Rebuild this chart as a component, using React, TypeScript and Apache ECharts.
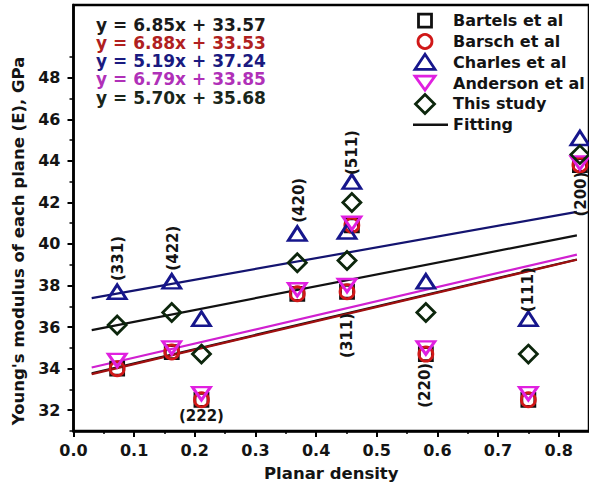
import React, { useEffect, useRef } from 'react';
import * as echarts from 'echarts';

// ---- data ----
const planes = ['(331)', '(422)', '(222)', '(420)', '(311)', '(511)', '(220)', '(111)', '(200)'];
const planarDensity = [0.072, 0.162, 0.211, 0.369, 0.451, 0.459, 0.581, 0.75, 0.835];
const bartels = [34.0, 34.8, 32.5, 37.6, 37.7, 40.9, 34.7, 32.5, 43.8];
const barsch = [34.0, 34.8, 32.5, 37.6, 37.7, 40.9, 34.7, 32.5, 43.8];
const charles = [37.7, 38.2, 36.4, 40.5, 40.6, 43.0, 38.2, 36.4, 45.1];
const anderson = [34.4, 35.0, 32.8, 37.8, 38.0, 41.0, 35.0, 32.8, 43.9];
const thisStudy = [36.1, 36.7, 34.7, 39.1, 39.2, 42.0, 36.7, 34.7, 44.3];

const fitSlopes = [6.85, 6.88, 5.19, 6.79, 5.70];
const fitIntercepts = [33.57, 33.53, 37.24, 33.85, 35.68];
const fitRange = [0.03, 0.83];

const labelX = [0.074, 0.164, 0.211, 0.372, 0.451, 0.46, 0.58, 0.75, 0.836];
const labelY = [39.3, 39.8, 31.7, 42.1, 35.6, 44.4, 33.2, 37.8, 42.4];
const labelRotate = [90, 90, 0, 90, 90, 90, 90, 90, 90];

const xMajorTicks = [0, 0.1, 0.2, 0.3, 0.4, 0.5, 0.6, 0.7, 0.8];
const xMinorTicks = [0.05, 0.15, 0.25, 0.35, 0.45, 0.55, 0.65, 0.75];
const yMajorTicks = [32, 34, 36, 38, 40, 42, 44, 46, 48];
const yMinorTicks = [31, 33, 35, 37, 39, 41, 43, 45, 47, 49];

const seriesNames = ['Bartels et al', 'Barsch et al', 'Charles et al', 'Anderson et al', 'This study'];
const fitName = 'Fitting';
const colors = ['#111111', '#d01818', '#16168c', '#e020e0', '#0c260c'];
const lineColors = ['#111111', '#a01010', '#141470', '#d020d0', '#111111'];
const eqColors = ['#1a1a1a', '#b02020', '#1a1a80', '#b030b8', '#1a261a'];

const FONT = 'DejaVu Sans';

export default function App() {
  const ref = useRef<HTMLDivElement>(null);
  useEffect(() => {
    document.body.style.margin = '0';
    if (!ref.current) return;
    const chart = echarts.init(ref.current, null, { renderer: 'svg' });

    const gridLeft = 73.5, gridTop = 5, gridW = 517, gridH = 426.7;

    const pts = (ys: number[]) => planarDensity.map((x, i) => [x, ys[i]]);
    const valueSets = [bartels, barsch, charles, anderson, thisStudy];
    const symbols = ['rect', 'circle', 'triangle', 'triangle', 'diamond'];
    const sizes: any[] = [13, 14, [18, 14], [18, 13], [18, 18]];
    const rotates = [0, 0, 0, 180, 0];

    const fitSeries = fitSlopes.map((s, i) => ({
      type: 'line',
      name: i === 4 ? fitName : 'fit-' + seriesNames[i],
      data: fitRange.map((x) => [x, s * x + fitIntercepts[i]]),
      symbol: 'none',
      lineStyle: { color: lineColors[i], width: 2.2 },
      itemStyle: { color: lineColors[i] },
      z: 2,
    }));

    const scatterSeries = valueSets.map((vals, i) => ({
      type: 'scatter',
      name: seriesNames[i],
      data: pts(vals),
      symbol: symbols[i],
      symbolSize: sizes[i],
      symbolRotate: rotates[i],
      itemStyle: { color: 'rgba(0,0,0,0)', borderColor: colors[i], borderWidth: 2.8, opacity: 1 },
      z: 3,
    }));

    const labelSeries = {
      type: 'scatter',
      name: 'planes',
      symbolSize: 1,
      silent: true,
      z: 4,
      data: planes.map((p, i) => ({
        value: [labelX[i], labelY[i]],
        name: p,
        label: { rotate: labelRotate[i] },
      })),
      label: {
        show: true,
        position: 'inside',
        formatter: (p: any) => p.name,
        fontFamily: FONT,
        fontWeight: 'bold',
        fontSize: 15,
        color: '#141414',
      },
      itemStyle: { color: 'rgba(0,0,0,0)', opacity: 1 },
    };

    const eqGraphics = fitSlopes.map((s, i) => ({
      type: 'text',
      left: 96,
      top: 16 + i * 18.3,
      style: {
        text: `y = ${s.toFixed(2)}x + ${fitIntercepts[i].toFixed(2)}`,
        fill: eqColors[i],
        font: `bold 17px "${FONT}"`,
      },
    }));

    // legend drawn as graphics (keeps symbol proportions of the reference)
    const lx = 425, ly0 = 20.7, lgap = 20.8, textX = 453;
    const legendNames = [...seriesNames, fitName];
    const stroke = (c: string) => ({ fill: 'none', stroke: c, lineWidth: 2.8 });
    const legendIcons: any[] = [
      { type: 'rect', shape: { x: lx - 6.5, y: ly0 - 6.5, width: 13, height: 13 }, style: stroke(colors[0]) },
      { type: 'circle', shape: { cx: lx, cy: ly0 + lgap, r: 7 }, style: stroke(colors[1]) },
      { type: 'polygon', shape: { points: [[lx - 10, ly0 + 2 * lgap + 7], [lx + 10, ly0 + 2 * lgap + 7], [lx, ly0 + 2 * lgap - 8]] }, style: stroke(colors[2]) },
      { type: 'polygon', shape: { points: [[lx - 10, ly0 + 3 * lgap - 7], [lx + 10, ly0 + 3 * lgap - 7], [lx, ly0 + 3 * lgap + 7]] }, style: stroke(colors[3]) },
      { type: 'polygon', shape: { points: [[lx, ly0 + 4 * lgap - 9.5], [lx + 9.5, ly0 + 4 * lgap], [lx, ly0 + 4 * lgap + 9.5], [lx - 9.5, ly0 + 4 * lgap]] }, style: stroke(colors[4]) },
      { type: 'line', shape: { x1: 413, y1: ly0 + 5 * lgap, x2: 448, y2: ly0 + 5 * lgap }, style: { stroke: '#111', lineWidth: 2.5 } },
    ];
    const legendTexts = legendNames.map((n, i) => ({
      type: 'text',
      x: textX,
      y: ly0 + i * lgap,
      style: {
        text: n,
        fill: '#141414',
        font: `bold 16px "${FONT}"`,
        verticalAlign: 'middle',
        align: 'left',
      },
    }));

    const axisTextStyle = { fontFamily: FONT, fontWeight: 'bold', fontSize: 16, color: '#141414' };

    chart.setOption({
      animation: false,
      grid: {
        left: gridLeft, top: gridTop, width: gridW, height: gridH,
        show: true, borderColor: '#000', borderWidth: 2.5, backgroundColor: 'transparent',
      },
      xAxis: [
        {
          type: 'value', min: 0, max: 0.85,
          axisLine: { lineStyle: { color: '#000', width: 2.5 } },
          axisTick: { customValues: xMajorTicks, length: 6, lineStyle: { width: 2, color: '#000' } },
          axisLabel: { ...axisTextStyle, customValues: xMajorTicks, margin: 11, formatter: (v: number) => v.toFixed(1) },
          splitLine: { show: false },
          name: 'Planar density', nameLocation: 'middle', nameGap: 34,
          nameTextStyle: { ...axisTextStyle, fontSize: 16.5 },
        },
        {
          type: 'value', min: 0, max: 0.85, position: 'bottom',
          axisLine: { show: false },
          axisTick: { customValues: xMinorTicks, length: 3, lineStyle: { width: 1.5, color: '#000' } },
          axisLabel: { show: false },
          splitLine: { show: false },
        },
      ],
      yAxis: [
        {
          type: 'value', min: 31, max: 51.5,
          axisLine: { show: true, lineStyle: { color: '#000', width: 2.5 } },
          axisTick: { show: true, customValues: yMajorTicks, length: 6, lineStyle: { width: 2, color: '#000' } },
          axisLabel: { ...axisTextStyle, customValues: yMajorTicks, margin: 13 },
          splitLine: { show: false },
          name: "Young's modulus of each plane (E), GPa", nameLocation: 'middle', nameGap: 44,
          nameTextStyle: { ...axisTextStyle, fontSize: 16.5, padding: [0, 46, 0, 0] },
        },
        {
          type: 'value', min: 31, max: 51.5, position: 'left',
          axisLine: { show: false },
          axisTick: { show: true, customValues: yMinorTicks, length: 4, lineStyle: { width: 1.5, color: '#000' } },
          axisLabel: { show: false },
          splitLine: { show: false },
        },
      ],
      graphic: [...eqGraphics, ...legendIcons, ...legendTexts],
      series: [...fitSeries, ...scatterSeries, labelSeries],
    });
    return () => chart.dispose();
  }, []);
  return <div ref={ref} style={{ width: 589, height: 487 }} />;
}
